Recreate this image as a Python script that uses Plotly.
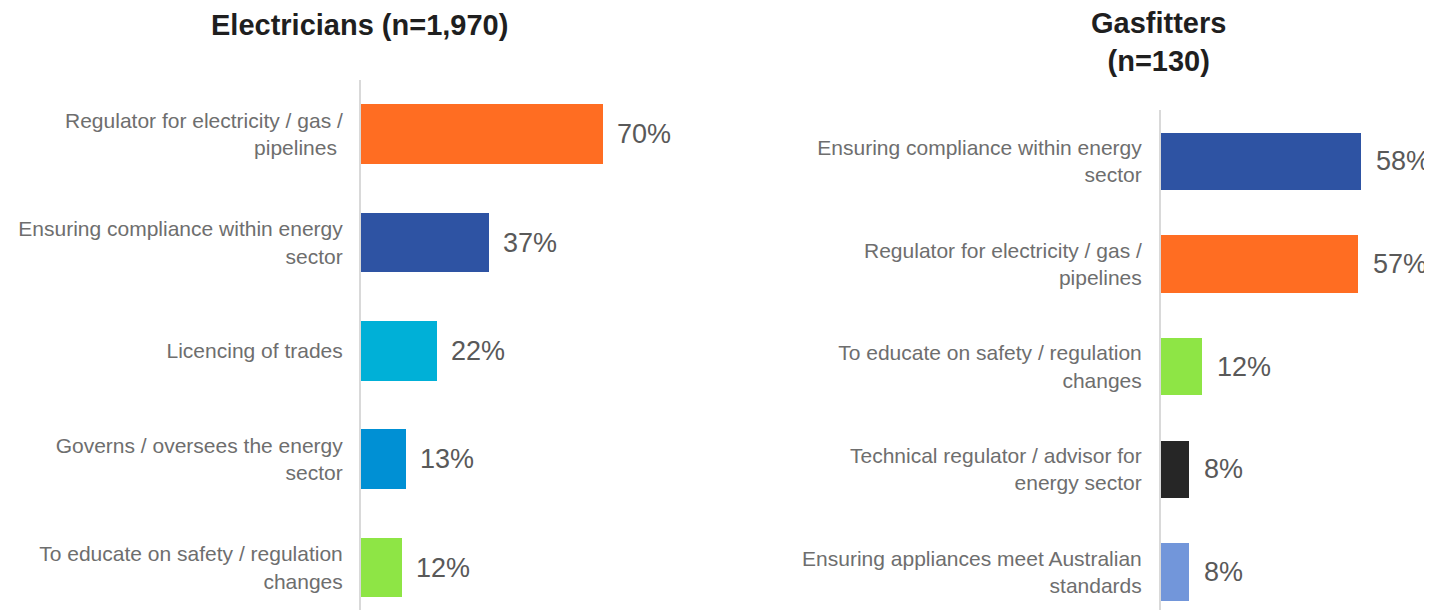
import plotly.graph_objects as go

# The page is rendered with an 8px body margin, so the figure is placed at (8, 8).
OFF = 8
W, H = 1432 - OFF, 610 - OFF


def px(x):
    return (x - OFF) / W


def py(y):
    return 1 - (y - OFF) / H


elec_title = "Electricians (n=1,970)"
elec_labels = [
    "Regulator for electricity / gas /<br>pipelines ",
    "Ensuring compliance within energy<br>sector",
    "Licencing of trades",
    "Governs / oversees the energy<br>sector",
    "To educate on safety / regulation<br>changes",
]
elec_values = [70, 37, 22, 13, 12]
elec_colors = ["#FF6D22", "#2E53A3", "#00B0D7", "#0090D4", "#8EE545"]

gas_title = "Gasfitters<br>(n=130)"
gas_labels = [
    "Ensuring compliance within energy<br>sector",
    "Regulator for electricity / gas /<br>pipelines",
    "To educate on safety / regulation<br>changes",
    "Technical regulator / advisor for<br>energy sector",
    "Ensuring appliances meet Australian<br>standards",
]
gas_values = [58, 57, 12, 8, 8]
gas_colors = ["#2E53A3", "#FF6D22", "#8EE545", "#262626", "#7296DA"]

LABEL_COLOR = "#6E6E6E"
VALUE_COLOR = "#595959"
FONT = "Liberation Sans, Arial, sans-serif"

fig = go.Figure()
fig.add_trace(go.Bar(
    x=elec_values, y=elec_labels, orientation="h",
    marker=dict(color=elec_colors, line=dict(width=0)), width=0.55,
    xaxis="x", yaxis="y", hoverinfo="x+y",
))
fig.add_trace(go.Bar(
    x=gas_values, y=gas_labels, orientation="h",
    marker=dict(color=gas_colors, line=dict(width=0)), width=0.56,
    xaxis="x2", yaxis="y2", hoverinfo="x+y",
))

annotations = []
for lab, v in zip(elec_labels, elec_values):
    annotations.append(dict(x=v, y=lab, xref="x", yref="y", text=f"{v}%",
                            showarrow=False, xanchor="left", yanchor="middle", xshift=12,
                            font=dict(size=27, color=VALUE_COLOR, family=FONT)))
for lab, v in zip(gas_labels, gas_values):
    annotations.append(dict(x=v, y=lab, xref="x2", yref="y2", text=f"{v}%",
                            showarrow=False, xanchor="left", yanchor="middle", xshift=13,
                            font=dict(size=27, color=VALUE_COLOR, family=FONT)))

annotations.append(dict(x=px(359), y=py(25), xref="paper", yref="paper", text=f"<b>{elec_title}</b>",
                        showarrow=False, xanchor="center", yanchor="middle",
                        font=dict(size=29, color="#1F1F1F", family=FONT)))
annotations.append(dict(x=px(1158), y=py(42), xref="paper", yref="paper", text=f"<b>{gas_title}</b>",
                        showarrow=False, xanchor="center", yanchor="middle",
                        font=dict(size=29, color="#1F1F1F", family=FONT)))

tickfont = dict(size=21, color=LABEL_COLOR, family=FONT)

fig.update_layout(
    width=W, height=H,
    margin=dict(l=0, r=0, t=0, b=0),
    paper_bgcolor="white", plot_bgcolor="white",
    showlegend=False,
    bargap=0,
    annotations=annotations,
    xaxis=dict(domain=[px(361), px(700)], range=[0, 339 / 3.457], visible=False, fixedrange=True),
    xaxis2=dict(domain=[px(1161), 1.0], range=[0, 271 / 3.448], visible=False, fixedrange=True),
    yaxis=dict(domain=[0, py(80)], anchor="x", type="category",
               categoryorder="array", categoryarray=elec_labels,
               range=[4.5 - 0.033 - 8 / 106.7, -0.5], showgrid=False, zeroline=False,
               showline=True, linecolor="#D9D9D9", linewidth=2,
               ticks="", ticklabelstandoff=12, tickfont=tickfont, fixedrange=True),
    yaxis2=dict(domain=[0, py(110)], anchor="x2", type="category",
                categoryorder="array", categoryarray=gas_labels,
                range=[4.45 - 8 / 101, -0.5], showgrid=False, zeroline=False,
                showline=True, linecolor="#D9D9D9", linewidth=2,
                ticks="", ticklabelstandoff=13, tickfont=tickfont, fixedrange=True),
)

fig.write_html("out.html")
